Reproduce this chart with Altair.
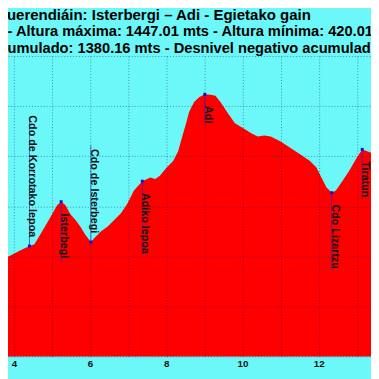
import altair as alt
import pandas as pd

# Elevation profile (km, m)
dist = [3.64, 3.90, 4.15, 4.41, 4.54, 4.67, 4.92, 5.14, 5.24, 5.35,
        5.48, 5.61, 5.74, 5.87, 6.02, 6.12, 6.29, 6.47, 6.64, 6.81,
        6.98, 7.15, 7.37, 7.58, 7.71, 7.83, 8.01, 8.18, 8.31, 8.43,
        8.52, 8.60, 8.73, 8.86, 9.01, 9.16, 9.29, 9.42, 9.59, 9.80,
        10.02, 10.23, 10.40, 10.57, 10.74, 11.00, 11.26, 11.52, 11.77, 11.94,
        12.07, 12.20, 12.34, 12.45, 12.63, 12.80, 12.97, 13.14, 13.27, 13.40]
altitude = [783, 802, 822, 841, 848, 881, 946, 1005, 1018, 1005,
            969, 946, 920, 887, 857, 874, 900, 920, 946, 972,
            1011, 1063, 1100, 1115, 1109, 1122, 1155, 1181, 1220, 1285,
            1331, 1377, 1416, 1435, 1447, 1445, 1441, 1416, 1377, 1331,
            1311, 1292, 1279, 1283, 1279, 1259, 1233, 1207, 1181, 1155,
            1115, 1076, 1054, 1063, 1103, 1142, 1187, 1227, 1220, 1212]

# Named waypoints
wp_names = ["Cdo de Korrotako lepoa", "Isterbegi", "Cdo de Isterbegi",
            "Adiko lepoa", "Adi", "Cdo Lizartzu", "Tiratun"]
wp_dist = [4.41, 5.24, 6.02, 7.37, 9.01, 12.34, 13.14]
wp_alt = [841, 1018, 857, 1100, 1447, 1054, 1227]
wp_side = ["above", "below", "above", "below", "below", "below", "below"]

x_ticks = [4, 5, 6, 7, 8, 9, 10, 11, 12, 13]
y_ticks = [400, 600, 800, 1000, 1200, 1400, 1600]

title_line = "Guerendiáin: Isterbergi – Adi - Egietako gain"
sub_lines = ["\u200b\u00a0\u00a0\u00a0- Altura máxima: 1447.01 mts - Altura mínima: 420.01 mts",
             "\u200b\u00a0cumulado: 1380.16 mts - Desnivel negativo acumulado:"]

prof = pd.DataFrame({"dist": dist, "alt": altitude})
wp = pd.DataFrame({"dist": wp_dist, "alt": wp_alt, "label": wp_names, "side": wp_side})

BG = "#6CF8F8"
FONT = "Liberation Sans"
GRID = "#101060"

xs = alt.Scale(domain=[3.846, 13.371], nice=False, zero=False)
ys = alt.Scale(domain=[400, 1600], nice=False, zero=False)

x_axis = alt.Axis(values=x_ticks, labelExpr="datum.value % 2 == 0 ? datum.label : ''",
                  grid=True, ticks=False, domain=False, labelPadding=2,
                  labelFontSize=10, labelFontWeight="bold", labelFont=FONT,
                  labelColor="#111111", labelOverlap=False, labelFlush=False,
                  title=None, zindex=1, gridColor=GRID, gridOpacity=0.45,
                  gridDash=[1, 2], gridWidth=1)
y_axis = alt.Axis(values=y_ticks, labels=False, ticks=False, domain=False,
                  title=None, grid=True, zindex=1, gridColor=GRID,
                  gridOpacity=0.45, gridDash=[1, 2], gridWidth=1)

area = alt.Chart(prof).mark_area(color="#FF0000", clip=True).encode(
    x=alt.X("dist:Q", scale=xs, axis=x_axis),
    y=alt.Y("alt:Q", scale=ys, axis=y_axis),
)

wpc = alt.Chart(wp).transform_calculate(
    alt_end="datum.side == 'above' ? datum.alt + (9 + length(datum.label) * 5.6) / 0.2558"
            " : datum.alt - (12 + length(datum.label) * 5.6) / 0.2558"
)

leaders = wpc.mark_rule(color="#2020d0", strokeWidth=0.8, opacity=0.8, clip=True).encode(
    x=alt.X("dist:Q", scale=xs),
    y=alt.Y("alt:Q", scale=ys),
    y2="alt_end:Q",
)

points = wpc.mark_square(size=9, color="#1010d8", opacity=1).encode(
    x=alt.X("dist:Q", scale=xs),
    y=alt.Y("alt:Q", scale=ys),
)

lab_above = wpc.transform_filter("datum.side == 'above'").mark_text(
    angle=90, align="right", baseline="alphabetic", dx=-9, font=FONT,
    fontSize=11, fontWeight="bold", color="#111111"
).encode(x=alt.X("dist:Q", scale=xs), y=alt.Y("alt:Q", scale=ys), text="label:N")

lab_below = wpc.transform_filter("datum.side == 'below'").mark_text(
    angle=90, align="left", baseline="alphabetic", dx=12, font=FONT,
    fontSize=11, fontWeight="bold", color="#111111"
).encode(x=alt.X("dist:Q", scale=xs), y=alt.Y("alt:Q", scale=ys), text="label:N")

chart = alt.layer(area, leaders, points, lab_above, lab_below).properties(
    width=371,
    height=307,
    autosize=alt.AutoSizeParams(type="none"),
    padding={"left": 0, "top": 45, "right": 0, "bottom": 19},
    background=BG,
    title=alt.TitleParams(
        text=title_line, subtitle=sub_lines, anchor="start", frame="group",
        dx=-13, offset=0, font=FONT, subtitleFont=FONT, fontSize=15.3,
        subtitleFontSize=15.0, fontWeight="bold", subtitleFontWeight="bold",
        color="#000000", subtitleColor="#000000", subtitleLineHeight=17,
        subtitlePadding=2,
    ),
).configure_view(fill=BG, stroke=None)

chart.save("out.html", embed_options={"renderer": "svg", "actions": False})
